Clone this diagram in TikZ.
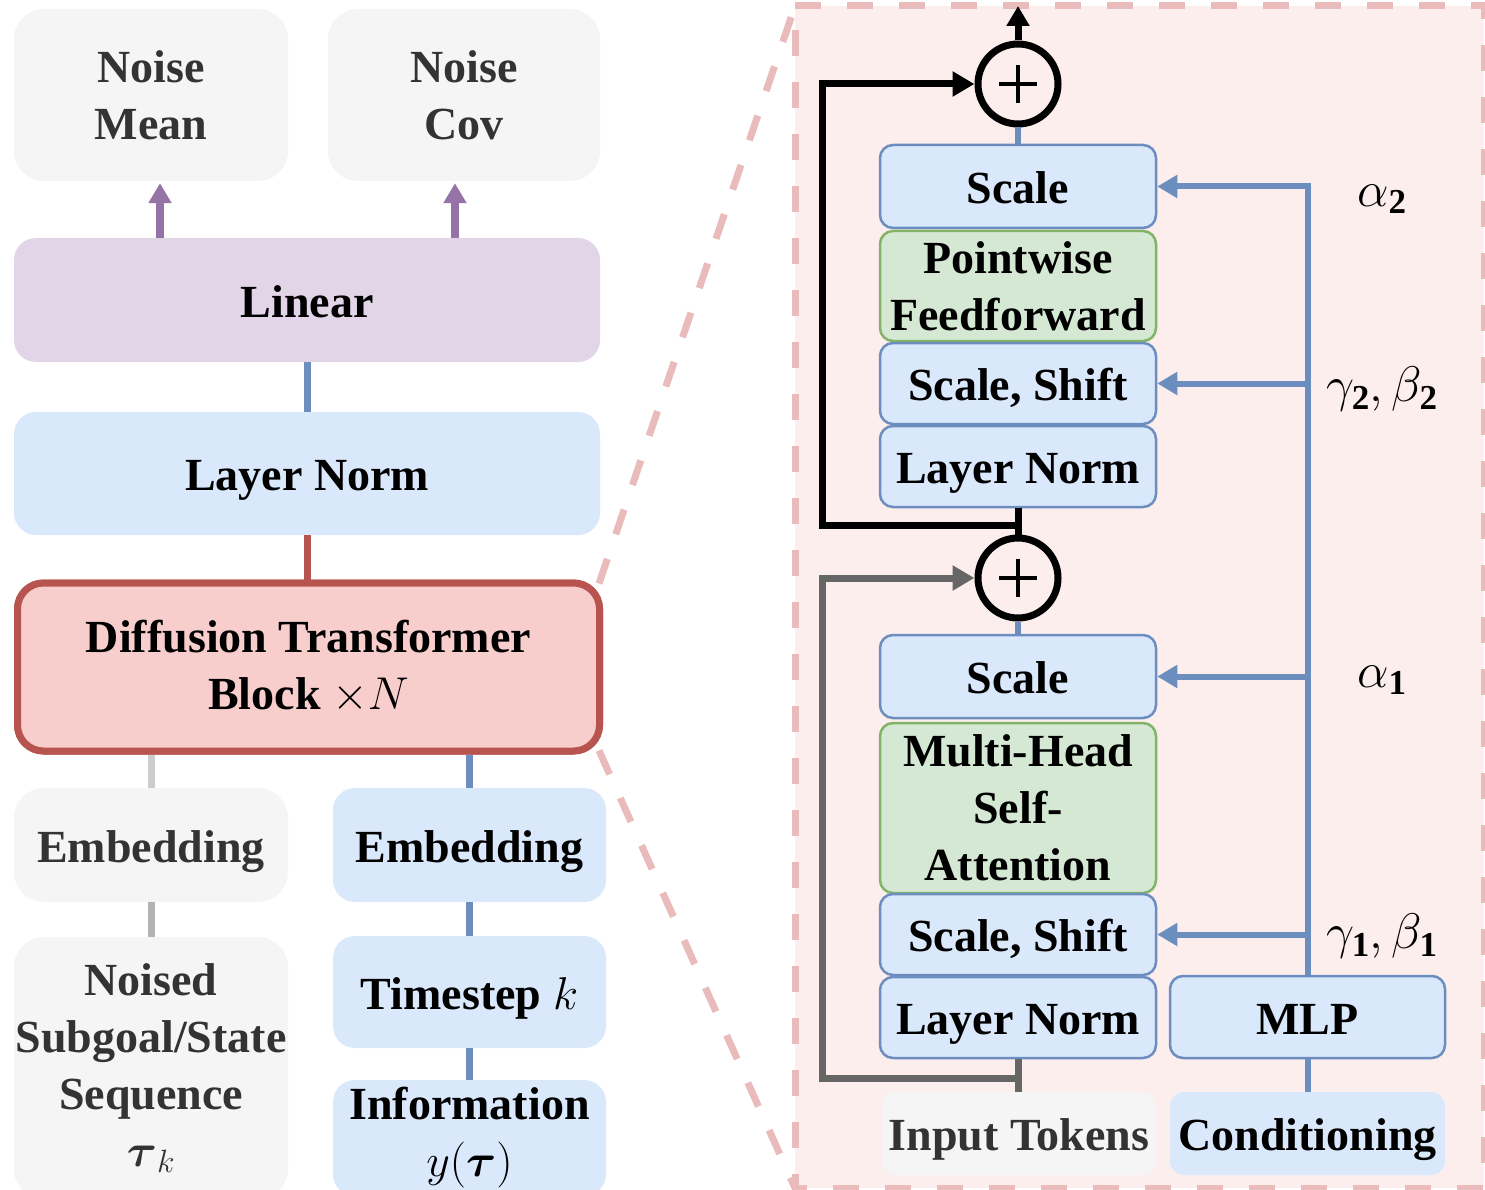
\RequirePackage{fix-cm}
\documentclass[tikz,border=0pt]{standalone}
\usepackage{amsmath}
\usepackage{fontspec}
\setmainfont{Liberation Serif}
\usetikzlibrary{arrows.meta,calc}

\definecolor{grayfill}{HTML}{F5F5F5}
\definecolor{graytext}{HTML}{333333}
\definecolor{purplefill}{HTML}{E1D5E7}
\definecolor{purpleline}{HTML}{9673A6}
\definecolor{bluefill}{HTML}{DAE8FC}
\definecolor{blueline}{HTML}{6C8EBF}
\definecolor{redfill}{HTML}{F8CECC}
\definecolor{redline}{HTML}{B85450}
\definecolor{greenfill}{HTML}{D5E8D4}
\definecolor{greenline}{HTML}{82B366}
\definecolor{zoomfill}{HTML}{FCEEED}
\definecolor{zoomline}{HTML}{E9BCBB}
\definecolor{lightlink}{HTML}{CCCCCC}
\definecolor{midlink}{HTML}{B3B3B3}
\definecolor{skipgray}{HTML}{666666}

\tikzset{
  x=1pt, y=-1pt,
  every node/.style={font=\fontsize{46}{57}\selectfont\bfseries, align=center, inner sep=0pt},
  oneline/.style={text height=40pt, text depth=6pt},
  softbox/.style={fill=grayfill, text=graytext, rounded corners=30pt},
  lin/.style={fill=purplefill, rounded corners=22pt},
  normbox/.style={fill=bluefill, rounded corners=22pt},
  ditbox/.style={fill=redfill, draw=redline, line width=7pt, rounded corners=26pt},
  bluebox/.style={fill=bluefill, draw=blueline, line width=2.5pt, rounded corners=13pt, minimum width=276pt},
  greenbox/.style={fill=greenfill, draw=greenline, line width=2.5pt, rounded corners=13pt, minimum width=276pt},
  plainblue/.style={fill=bluefill, rounded corners=14pt},
  plainsoft/.style={fill=grayfill, text=graytext, rounded corners=14pt},
  sumnode/.style={circle, draw=black, line width=7pt, minimum size=80pt},
  purplelink/.style={draw=purpleline, line width=8pt, -{Triangle[width=22pt,length=20pt]}},
  bluelink/.style={draw=blueline, line width=7pt},
  redlink/.style={draw=redline, line width=7pt},
  condlink/.style={draw=blueline, line width=6pt},
  condarrow/.style={draw=blueline, line width=6pt, -{Triangle[width=22pt,length=20pt]}},
  blackskip/.style={draw=black, line width=7pt},
  grayskip/.style={draw=skipgray, line width=7pt},
  zoomedge/.style={draw=zoomline, line width=7pt, dash pattern=on 26pt off 26pt},
  param/.style={font=\fontsize{50}{57}\selectfont\bfseries},
}

\begin{document}
\begin{tikzpicture}
% canvas
\fill[white] (0,0) rectangle (1485,1190);
\useasboundingbox (0,0) rectangle (1485,1190);

% zoomed-in block frame
\coordinate (zTL) at (795,6);
\coordinate (zBL) at (795,1188);
\coordinate (zTR) at (1484,6);
\coordinate (zBR) at (1484,1188);
\fill[zoomfill] (zTL) rectangle (zBR);

% ---------------- left column ----------------
\node[softbox, minimum width=274pt, minimum height=172pt] (nmean) at (151,95) {Noise\\Mean};
\node[softbox, minimum width=272pt, minimum height=172pt] (ncov) at (464,95) {Noise\\Cov};
\node[lin, oneline, minimum width=586pt, minimum height=124pt] (linear) at (307,300) {Linear};
\node[normbox, oneline, minimum width=586pt, minimum height=123pt] (lnorm) at (307,473.5) {Layer Norm};
\node[ditbox, minimum width=582pt, minimum height=168pt] (dit) at (308.5,667) {Diffusion Transformer\\Block $\times N$};
\node[softbox, oneline, minimum width=274pt, minimum height=114pt] (emb1) at (151,845) {Embedding};
\node[normbox, oneline, minimum width=273pt, minimum height=114pt] (emb2) at (469.5,845) {Embedding};
\node[softbox, minimum width=274pt, minimum height=262pt] (noised) at (151,1068) {Noised\\Subgoal/State\\Sequence\\$\boldsymbol{\tau}_k$};
\node[normbox, oneline, minimum width=273pt, minimum height=112pt] (tstep) at (469.5,992) {Timestep $k$};
\node[normbox, minimum width=273pt, minimum height=116pt] (info) at (469.5,1138) {Information\\$y(\boldsymbol{\tau})$};

% dashed zoom guides from the block to the frame
\draw[zoomedge] ($(dit.north east)+(-4,4)$) -- (zTL);
\draw[zoomedge] ($(dit.south east)+(-4,-4)$) -- (zBL);
\draw[zoomedge] (zTL) -- (zTR) -- (zBR) -- (zBL) -- cycle;
% redraw the block on top of the guide lines
\node[ditbox, minimum width=582pt, minimum height=168pt] at (dit) {Diffusion Transformer\\Block $\times N$};

% left column links
\draw[purplelink] ([xshift=9pt]nmean.south |- linear.north) -- ([xshift=9pt,yshift=-2pt]nmean.south);
\draw[purplelink] ([xshift=-9pt]ncov.south |- linear.north) -- ([xshift=-9pt,yshift=-2pt]ncov.south);
\draw[bluelink] (linear.south) -- (lnorm.north);
\draw[redlink] (lnorm.south) -- (lnorm.south |- dit.north);
\draw[draw=lightlink, line width=7pt] (emb1.north |- dit.south) -- (emb1.north);
\draw[bluelink] (emb2.north |- dit.south) -- (emb2.north);
\draw[draw=midlink, line width=7pt] (emb1.south) -- (noised.north);
\draw[bluelink] (emb2.south) -- (tstep.north);
\draw[bluelink] (tstep.south) -- (info.north);

% ---------------- right column: block internals ----------------
\node[sumnode] (plus1) at (1018,84) {};
\node[bluebox, oneline, minimum height=83pt] (scale2) at (1018,186.5) {Scale};
\node[greenbox, minimum height=110pt] (pff) at (1018,286) {Pointwise\\Feedforward};
\node[bluebox, oneline, minimum height=81pt] (ss2) at (1018,383.5) {Scale, Shift};
\node[bluebox, oneline, minimum height=81pt] (ln2) at (1018,466.5) {Layer Norm};
\node[sumnode] (plus2) at (1018,578) {};
\node[bluebox, oneline, minimum height=83pt] (scale1) at (1018,676.5) {Scale};
\node[greenbox, minimum height=170pt] (mhsa) at (1018,808) {Multi-Head\\Self-\\Attention};
\node[bluebox, oneline, minimum height=81pt] (ss1) at (1018,934.5) {Scale, Shift};
\node[bluebox, oneline, minimum height=81pt] (ln1) at (1018,1017.5) {Layer Norm};
\node[bluebox, oneline, minimum width=275pt, minimum height=82pt] (mlp) at (1307.5,1017) {MLP};
\node[plainsoft, oneline, minimum width=274pt, minimum height=83pt] (tokens) at (1019,1133.5) {Input Tokens};
\node[plainblue, oneline, minimum width=275pt, minimum height=83pt] (cond) at (1307.5,1133.5) {Conditioning};

% plus signs
\foreach \s in {plus1,plus2}{
  \draw[line width=3.5pt] ($(\s.center)+(-19,0)$) -- ($(\s.center)+(19,0)$);
  \draw[line width=3.5pt] ($(\s.center)+(0,-19)$) -- ($(\s.center)+(0,19)$);
}

% output arrow
\coordinate (outtop) at (1018,6);
\draw[blackskip, -{Triangle[width=22pt,length=20pt]}] (plus1.north) -- (outtop);

% main path links
\draw[condlink] (scale2.north) -- (plus1.south);
\draw[blackskip] (ln2.south) -- (plus2.north);
\draw[condlink] (scale1.north) -- (plus2.south);
\draw[grayskip] (tokens.north -| ln1.south) -- (ln1.south);

% residual connections
\coordinate (br1) at (1018,525);
\coordinate (k1) at (822,525);
\draw[blackskip, -{Triangle[width=24pt,length=22pt]}] (br1) -- (k1) |- (plus1.west);
\coordinate (br2) at (1018,1078);
\coordinate (k2) at (822,1078);
\draw[grayskip, -{Triangle[width=24pt,length=22pt]}] (br2) -- (k2) |- (plus2.west);

% conditioning branch
\draw[condlink] (cond.north) -- (mlp.south);
\draw[condarrow] (mlp.north) |- (scale2.east);
\draw[condarrow] (mlp.north |- ss2.east) -- (ss2.east);
\draw[condarrow] (mlp.north |- scale1.east) -- (scale1.east);
\draw[condarrow] (mlp.north |- ss1.east) -- (ss1.east);

% modulation parameters
\node[param] (a2) at (1382,199) {$\alpha_{\mathbf{2}}$};
\node[param] (gb2) at (1382,389) {$\gamma_{\mathbf{2}}\mathbf{,}\,\beta_{\mathbf{2}}$};
\node[param] (a1) at (1382,680) {$\alpha_{\mathbf{1}}$};
\node[param] (gb1) at (1382,936) {$\gamma_{\mathbf{1}}\mathbf{,}\,\beta_{\mathbf{1}}$};
\end{tikzpicture}
\end{document}
